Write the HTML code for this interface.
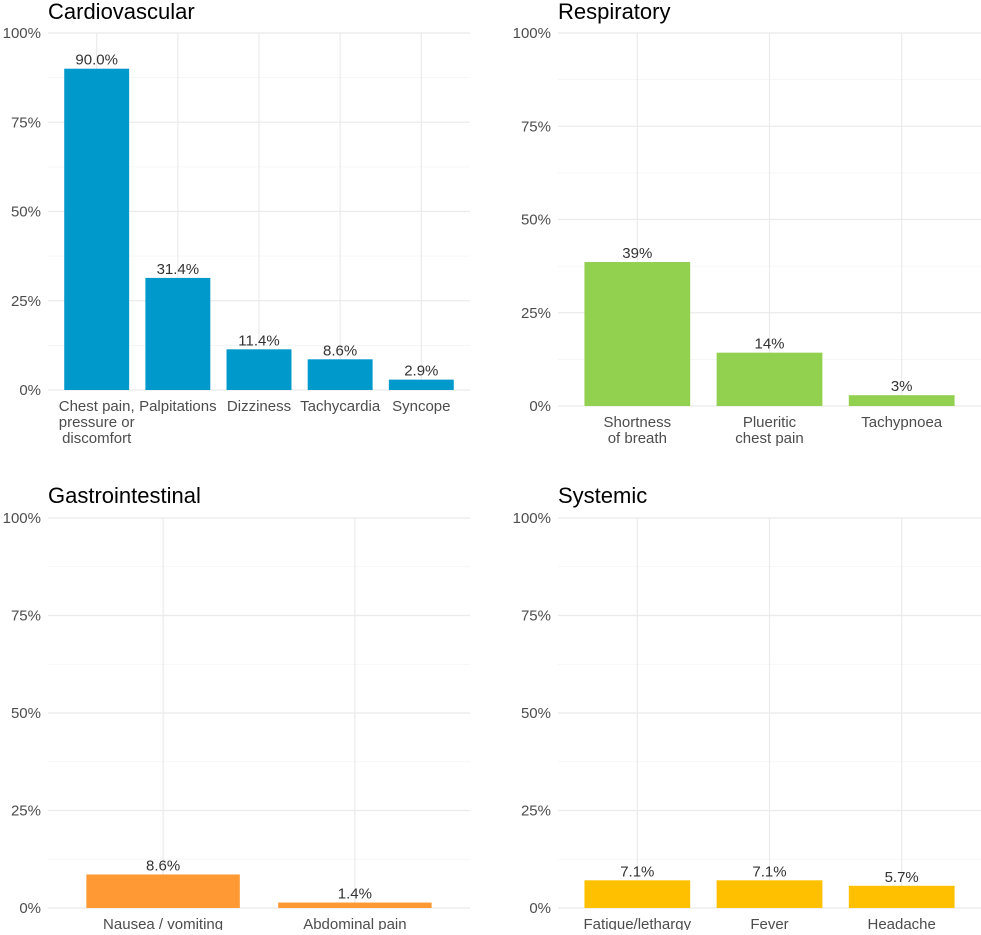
<!DOCTYPE html>
<html><head><meta charset="utf-8"><style>
body{margin:0;background:#fff;font-family:"Liberation Sans",Arial,sans-serif}
svg text{font-family:"Liberation Sans",Arial,sans-serif}
</style></head><body>
<svg id="c" width="981" height="930" viewBox="0 0 981 930"></svg>
<script>
const titles=["Cardiovascular","Respiratory","Gastrointestinal","Systemic"];
const cvCats=[["Chest pain,","pressure or","discomfort"],["Palpitations"],["Dizziness"],["Tachycardia"],["Syncope"]];
const cvVals=[90.0,31.4,11.4,8.6,2.9];
const cvLabels=["90.0%","31.4%","11.4%","8.6%","2.9%"];
const rsCats=[["Shortness","of breath"],["Plueritic","chest pain"],["Tachypnoea"]];
const rsVals=[38.6,14.3,2.9];
const rsLabels=["39%","14%","3%"];
const giCats=[["Nausea / vomiting"],["Abdominal pain"]];
const giVals=[8.6,1.4];
const giLabels=["8.6%","1.4%"];
const syCats=[["Fatigue/lethargy"],["Fever"],["Headache"]];
const syVals=[7.1,7.1,5.7];
const syLabels=["7.1%","7.1%","5.7%"];
const yTicks=[0,25,50,75,100];
const yTickLabels=["0%","25%","50%","75%","100%"];
const colors=["#0099cc","#92d050","#ff9933","#ffc000"];
const NS="http://www.w3.org/2000/svg";
const svg=document.getElementById('c');
function mk(tag,attrs,parent){const e=document.createElementNS(NS,tag);for(const k in attrs)e.setAttribute(k,attrs[k]);(parent||svg).appendChild(e);return e;}
function panel(idx,x0,x1,yTop,yBot,cats,vals,labels,color,titleY){
  const g=mk('g',{});
  
  
  const y=v=>yBot-(v/100)*(yBot-yTop);
  const n=cats.length;const step=(x1-x0)/(n+0.2);
  const xc=i=>x0+step*(0.6+i);
  const t=mk('text',{x:x0,y:titleY,'font-size':22,fill:'#000'},g);t.textContent=titles[idx];
  
  
  for(let v=0;v<=100;v+=12.5){
    const major=v%25===0;
    mk('line',{x1:x0,x2:x1,y1:y(v),y2:y(v),stroke:major?'#ebebeb':'#f4f4f4','stroke-width':major?1.2:0.8},g);
  }
  for(let i=0;i<n;i++)mk('line',{x1:xc(i),x2:xc(i),y1:yTop,y2:yBot,stroke:'#ebebeb','stroke-width':1.2},g);
  yTicks.forEach((v,i)=>{
    const tl=mk('text',{x:x0-7,y:y(v)+5,'font-size':15,fill:'#4d4d4d','text-anchor':'end'},g);
    tl.textContent=yTickLabels[i];
    
    
  });
  const bw=step*0.8;
  for(let i=0;i<n;i++){
    const r=mk('rect',{x:xc(i)-bw/2,y:y(vals[i]),width:bw,height:yBot-y(vals[i]),fill:color},g);
    
    
    const vl=mk('text',{x:xc(i),y:y(vals[i])-4,'font-size':15,fill:'#333','text-anchor':'middle'},g);
    vl.textContent=labels[i];
    
    
    cats[i].forEach((ln,j)=>{
      const cl=mk('text',{x:xc(i),y:yBot+21+j*16,'font-size':15,fill:'#4d4d4d','text-anchor':'middle'},g);
      cl.textContent=ln;
      
      
    });
  }
}
panel(0,48,470,33,390,cvCats,cvVals,cvLabels,colors[0],19);
panel(1,558,981,33,406,rsCats,rsVals,rsLabels,colors[1],19);
panel(2,48,470,518,908,giCats,giVals,giLabels,colors[2],503);
panel(3,558,981,518,908,syCats,syVals,syLabels,colors[3],503);
</script>
</body></html>
